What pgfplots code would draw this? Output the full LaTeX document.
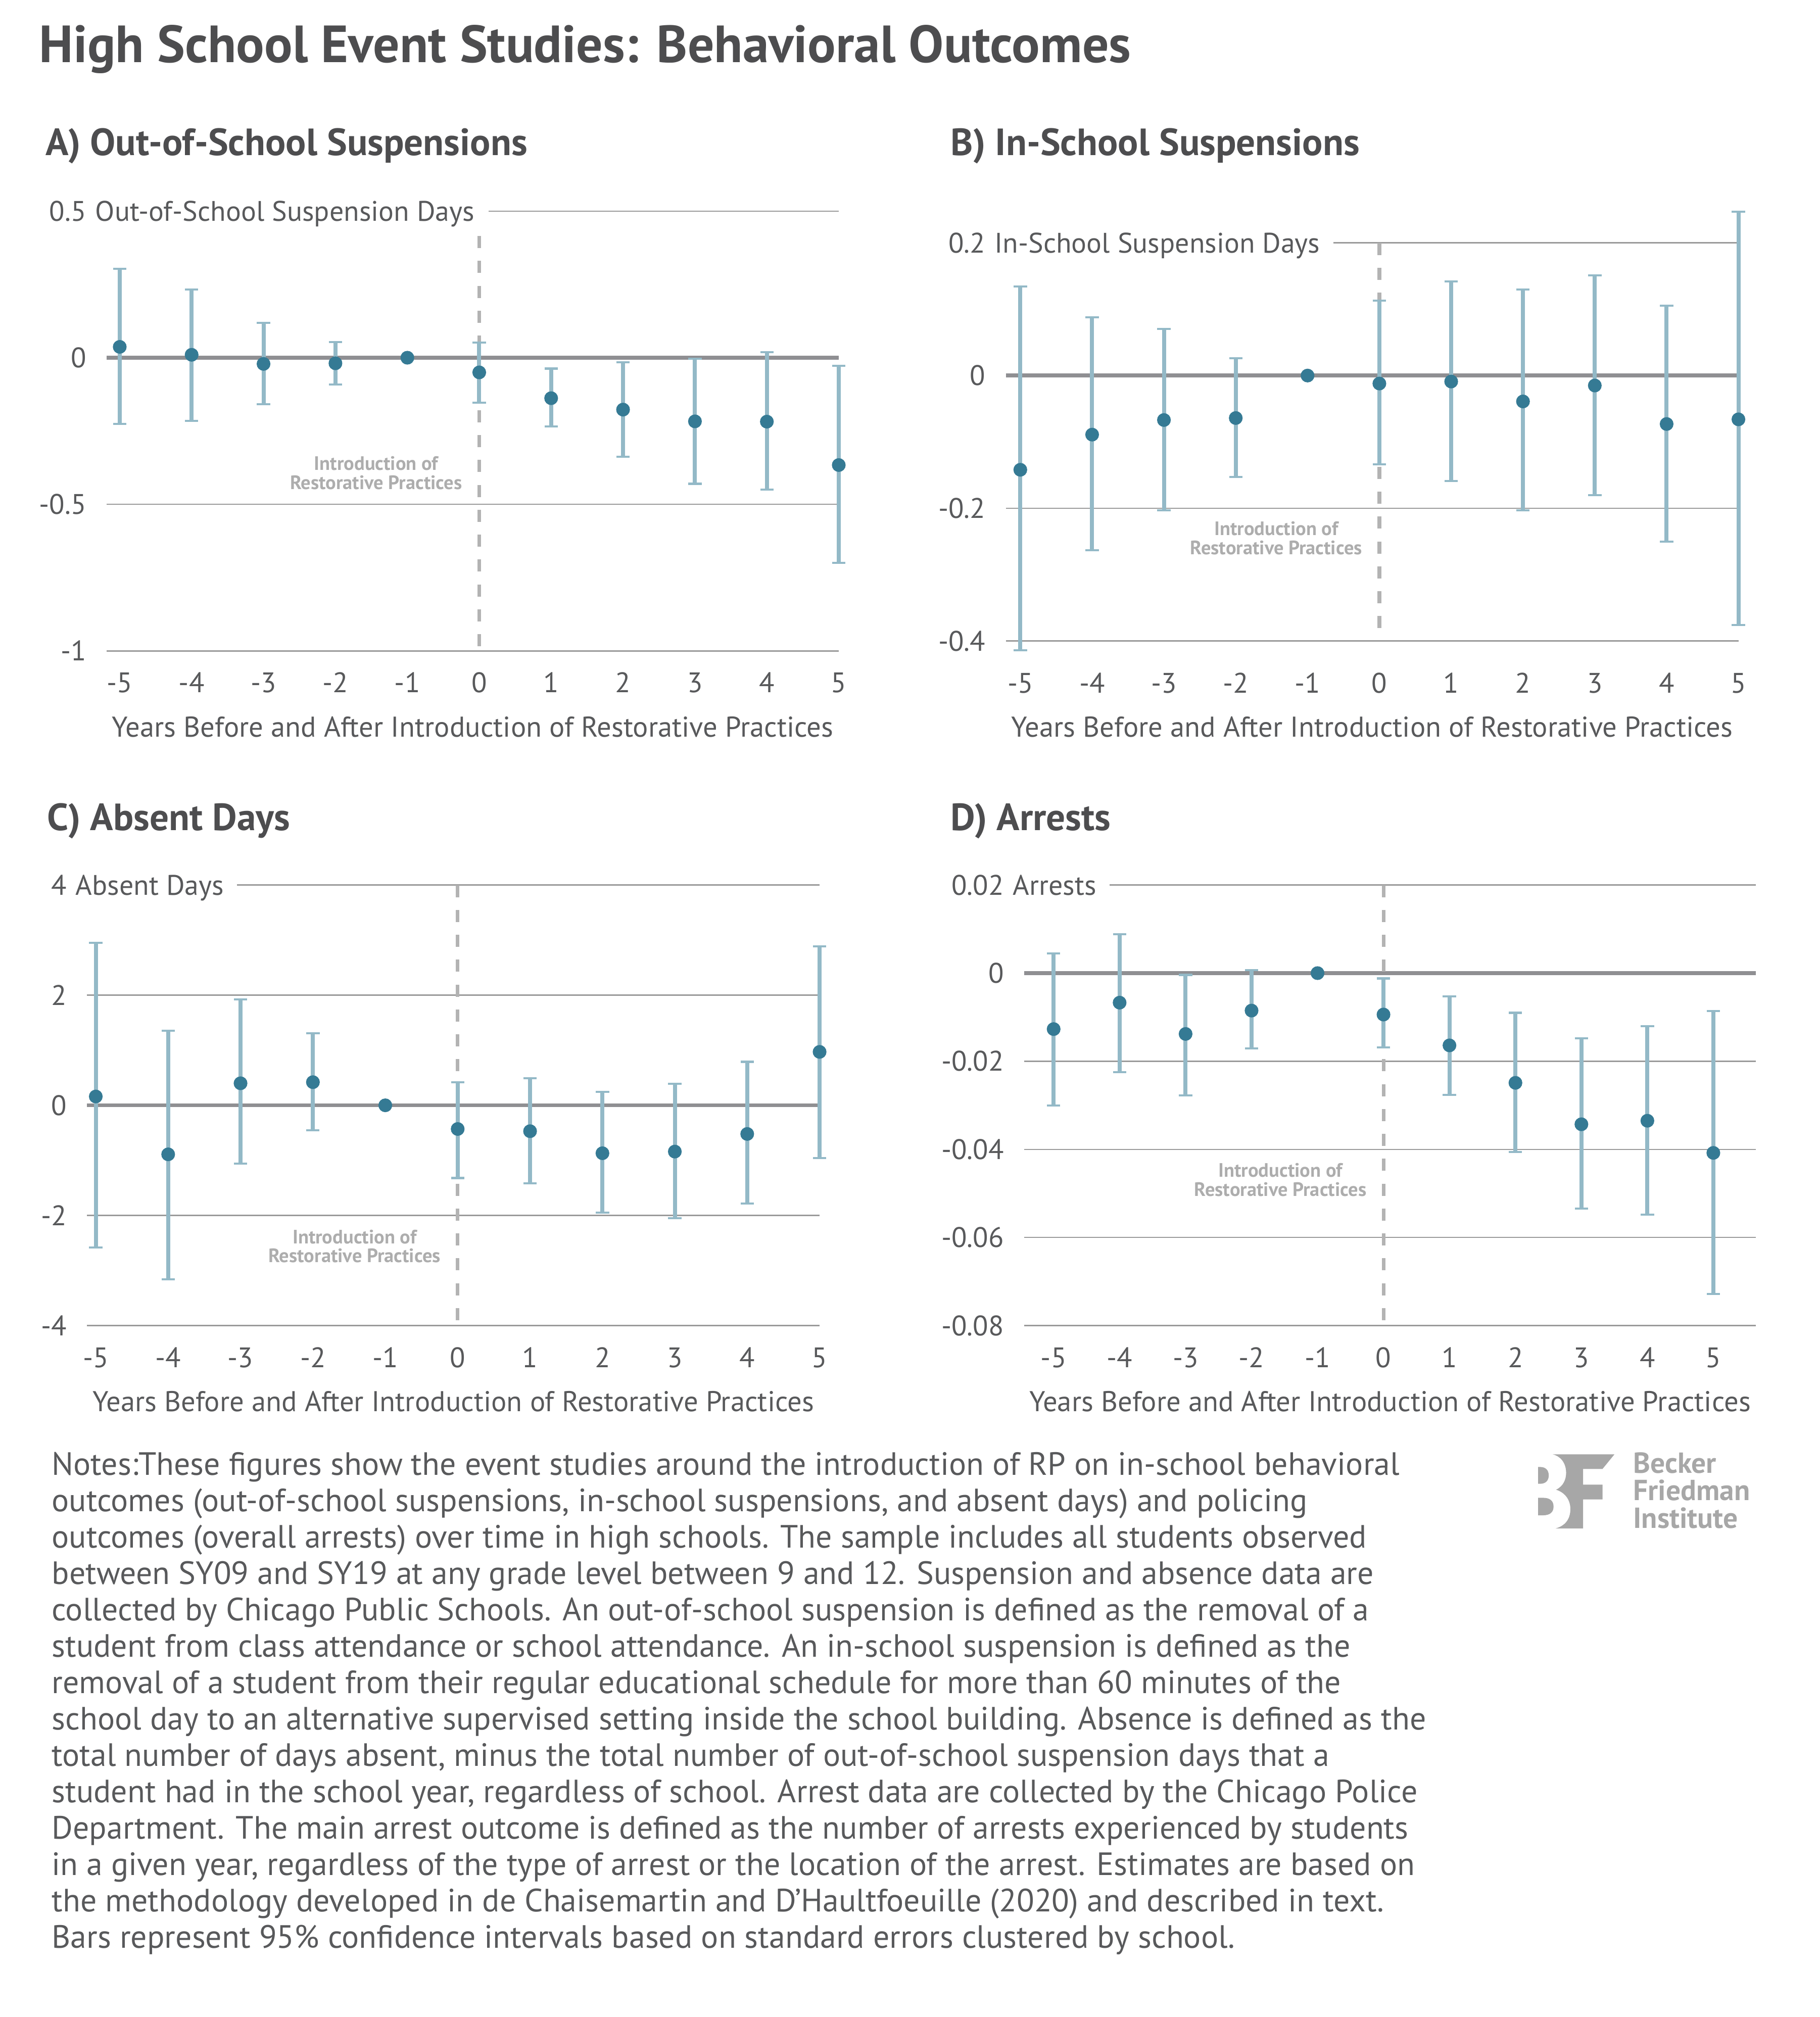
\documentclass[border=0pt]{standalone}
\usepackage{fontspec}
\setmainfont{PT Sans}
\usepackage{pgfplots}
\pgfplotsset{compat=1.18}
\usepackage{pgfplotstable}

\definecolor{titlecol}{HTML}{4D4D4F}
\definecolor{labcol}{HTML}{58595B}
\definecolor{gridcol}{HTML}{9A9A9A}
\definecolor{zerocol}{HTML}{8F8F92}
\definecolor{dashcol}{HTML}{B3B3B3}
\definecolor{errcol}{HTML}{93B9C7}
\definecolor{dotcol}{HTML}{357A94}
\definecolor{anncol}{HTML}{ADADAD}
\definecolor{logocol}{HTML}{A7A7A7}

\newcommand\tickfont{\fontsize{10.9}{12}\selectfont}
\newcommand\labfont{\fontsize{11.05}{12}\selectfont}
\newcommand\annfont{\fontsize{7.5}{7.3}\selectfont\bfseries}
\newcommand\ptitle{\fontsize{14.65}{16}\selectfont\bfseries}

\pgfplotstableread{
x y lo hi
-5 0.037 -0.226 0.304
-4 0.010 -0.215 0.233
-3 -0.021 -0.159 0.119
-2 -0.019 -0.091 0.053
-1 0 0 0
0 -0.050 -0.153 0.052
1 -0.138 -0.234 -0.037
2 -0.177 -0.338 -0.016
3 -0.217 -0.430 -0.004
4 -0.218 -0.450 0.019
5 -0.366 -0.700 -0.028
}\dataA
\pgfplotstableread{
x y lo hi
-5 -0.142 -0.414 0.134
-4 -0.089 -0.263 0.088
-3 -0.067 -0.203 0.070
-2 -0.064 -0.153 0.026
-1 0 0 0
0 -0.012 -0.134 0.113
1 -0.009 -0.159 0.142
2 -0.039 -0.203 0.130
3 -0.015 -0.180 0.151
4 -0.073 -0.250 0.105
5 -0.066 -0.376 0.247
}\dataB
\pgfplotstableread{
x y lo hi
-5 0.16 -2.58 2.95
-4 -0.89 -3.16 1.35
-3 0.40 -1.06 1.92
-2 0.42 -0.45 1.31
-1 0 0 0
0 -0.43 -1.32 0.42
1 -0.47 -1.42 0.49
2 -0.87 -1.95 0.24
3 -0.84 -2.05 0.39
4 -0.52 -1.78 0.79
5 0.97 -0.96 2.89
}\dataC
\pgfplotstableread{
x y lo hi
-5 -0.0127 -0.0300 0.0045
-4 -0.0067 -0.0225 0.0088
-3 -0.0138 -0.0277 -0.0004
-2 -0.0085 -0.0171 0.0007
-1 0 0 0
0 -0.0094 -0.0169 -0.0012
1 -0.0164 -0.0276 -0.0053
2 -0.0249 -0.0406 -0.0090
3 -0.0343 -0.0534 -0.0148
4 -0.0335 -0.0548 -0.0120
5 -0.0408 -0.0728 -0.0086
}\dataD

\tikzset{
  dashv/.style={dashcol, line width=1.4pt, dash pattern=on 4.7pt off 4.9pt},
  toplab/.style={anchor=base west, fill=white, inner xsep=0pt, inner ysep=3pt, font=\tickfont, text=labcol},
  ann/.style={anchor=east, align=center, inner sep=0pt, xshift=-6.4pt, font=\annfont, text=anncol},
}
\pgfplotsset{
  panel/.style={
    scale only axis, clip=false, anchor=north west,
    axis line style={draw=none},
    major tick length=0pt,
    ymajorgrids, grid style={gridcol, line width=0.45pt},
    xtick={-5,...,5},
    tick label style={font=\tickfont, text=labcol},
    /pgf/number format/assume math mode=true,
    scaled y ticks=false,
    yticklabel style={anchor=base east, inner sep=0pt, xshift=-7.7pt, yshift=-3.8pt},
    xticklabel style={anchor=base, inner sep=0pt, yshift=-16.1pt},
    extra y ticks={0},
    extra y tick style={ymajorgrids=true, grid style={zerocol, line width=1.5pt}},
    xlabel={Years Before and After Introduction of Restorative Practices},
    xlabel style={font=\labfont, text=labcol, at={(rel axis cs:0.5,0)}, anchor=base, inner sep=0pt, yshift=-33.2pt},
  },
  est/.style={only marks, mark=*, mark size=2.45pt, mark options={draw=dotcol, fill=dotcol},
    error bars/.cd, y dir=both, y explicit,
    error bar style={errcol, line width=1.56pt},
    error mark options={rotate=90, errcol, line width=0.8pt, mark size=2.57pt}},
}

\begin{document}
\begin{tikzpicture}
\path[use as bounding box] (0,0) rectangle (702pt,-778.2pt);

\node[anchor=base west, inner sep=0pt, text=titlecol] at (15pt,-24pt)
  {\fontsize{20.2}{22}\selectfont\bfseries High School Event Studies: Behavioral Outcomes};
\node[anchor=base west, inner sep=0pt, text=titlecol] at (17.5pt,-60pt) {\ptitle A) Out-of-School Suspensions};
\node[anchor=base west, inner sep=0pt, text=titlecol] at (366.6pt,-60pt) {\ptitle B) In-School Suspensions};
\node[anchor=base west, inner sep=0pt, text=titlecol] at (18pt,-320.3pt) {\ptitle C) Absent Days};
\node[anchor=base west, inner sep=0pt, text=titlecol] at (366.6pt,-320.3pt) {\ptitle D) Arrests};

% Panel A
\begin{axis}[panel, at={(41.2pt,-81.45pt)}, width=282.4pt, height=169.7pt,
  xmin=-5.18, xmax=5, ymin=-1, ymax=0.5, ytick={-1,-0.5,0.5}]
  \draw[dashv] (axis cs:0,0.5) -- (axis cs:0,-1);
  \addplot[est] table[x=x, y=y, y error plus expr=\thisrow{hi}-\thisrow{y}, y error minus expr=\thisrow{y}-\thisrow{lo}] {\dataA};
  \node[ann] at (axis cs:0,-0.393) {Introduction of\\Restorative Practices};
  \node[toplab] at ([xshift=-4.6pt, yshift=-3.8pt]rel axis cs:0,1) {Out-of-School Suspension Days\hspace*{5.5pt}};
\end{axis}

% Panel B
\begin{axis}[panel, at={(388.1pt,-93.7pt)}, width=282.6pt, height=153.6pt,
  xmin=-5.2, xmax=5, ymin=-0.4, ymax=0.2, ytick={-0.4,-0.2,0.2},
  xticklabel style={yshift=-3.9pt}, xlabel style={yshift=-3.9pt}]
  \draw[dashv] (axis cs:0,0.2) -- (axis cs:0,-0.4);
  \addplot[est] table[x=x, y=y, y error plus expr=\thisrow{hi}-\thisrow{y}, y error minus expr=\thisrow{y}-\thisrow{lo}] {\dataB};
  \node[ann] at (axis cs:0,-0.245) {Introduction of\\Restorative Practices};
  \node[toplab] at ([xshift=-4.6pt, yshift=-3.8pt]rel axis cs:0,1) {In-School Suspension Days\hspace*{5.1pt}};
\end{axis}

% Panel C
\begin{axis}[panel, at={(33.6pt,-341.45pt)}, width=282.6pt, height=170pt,
  xmin=-5.12, xmax=5, ymin=-4, ymax=4, ytick={-4,-2,2,4}]
  \draw[dashv] (axis cs:0,4) -- (axis cs:0,-4);
  \addplot[est] table[x=x, y=y, y error plus expr=\thisrow{hi}-\thisrow{y}, y error minus expr=\thisrow{y}-\thisrow{lo}] {\dataC};
  \node[ann] at (axis cs:0,-2.56) {Introduction of\\Restorative Practices};
  \node[toplab] at ([xshift=-4.6pt, yshift=-3.8pt]rel axis cs:0,1) {Absent Days\hspace*{5pt}};
\end{axis}

% Panel D
\begin{axis}[panel, at={(395.2pt,-341.45pt)}, width=282.2pt, height=170pt,
  xmin=-5.444, xmax=5.644, ymin=-0.08, ymax=0.02, ytick={-0.08,-0.06,-0.04,-0.02,0.02},
  yticklabel style={/pgf/number format/fixed, /pgf/number format/precision=2}]
  \draw[dashv] (axis cs:0,0.02) -- (axis cs:0,-0.08);
  \addplot[est] table[x=x, y=y, y error plus expr=\thisrow{hi}-\thisrow{y}, y error minus expr=\thisrow{y}-\thisrow{lo}] {\dataD};
  \node[ann] at (axis cs:0,-0.0469) {Introduction of\\Restorative Practices};
  \node[toplab] at ([xshift=-4.6pt, yshift=-3.8pt]rel axis cs:0,1) {Arrests\hspace*{5pt}};
\end{axis}

% Notes
\node[anchor=base west, inner sep=0pt, text=labcol] at (19.8pt,-569.1pt) {\parbox[t]{600pt}{\fontsize{12.45}{14.03}\selectfont\raggedright
Notes:These figures show the event studies around the introduction of RP on in-school behavioral\\
outcomes (out-of-school suspensions, in-school suspensions, and absent days) and policing\\
outcomes (overall arrests) over time in high schools. The sample includes all students observed\\
between SY09 and SY19 at any grade level between 9 and 12. Suspension and absence data are\\
collected by Chicago Public Schools. An out-of-school suspension is defined as the removal of a\\
student from class attendance or school attendance. An in-school suspension is defined as the\\
removal of a student from their regular educational schedule for more than 60 minutes of the\\
school day to an alternative supervised setting inside the school building. Absence is defined as the\\
total number of days absent, minus the total number of out-of-school suspension days that a\\
student had in the school year, regardless of school. Arrest data are collected by the Chicago Police\\
Department. The main arrest outcome is defined as the number of arrests experienced by students\\
in a given year, regardless of the type of arrest or the location of the arrest. Estimates are based on\\
the methodology developed in de Chaisemartin and D’Haultfoeuille (2020) and described in text.\\
Bars represent 95\% confidence intervals based on standard errors clustered by school.}};

% Logo
\begin{scope}[shift={(593.4pt,-561.1pt)}, x=0.0746pt, y=-0.065pt]
  \fill[logocol] (0,75) -- (10,75) .. controls (40,75) and (55,95) .. (55,125) .. controls (55,155) and (40,175) .. (10,175) -- (0,175) -- cycle;
  \fill[logocol] (0,258) -- (25,258) .. controls (60,258) and (80,275) .. (80,310) .. controls (80,345) and (60,362) .. (25,362) -- (0,362) -- cycle;
  \fill[logocol] (75,0) -- (395,0) -- (333,87) -- (233,87) -- (233,180) -- (333,180) -- (333,268) -- (233,268) -- (233,440) -- (90,440)
     .. controls (140,425) and (167,385) .. (167,325) .. controls (167,265) and (135,225) .. (93,210)
     .. controls (130,190) and (145,150) .. (145,110) .. controls (145,50) and (115,10) .. (75,0) -- cycle;
\end{scope}
\node[anchor=base west, inner sep=0pt, text=logocol] at (629.9pt,-568.3pt)
  {\parbox[t]{80pt}{\fontsize{11.2}{10.6}\selectfont\bfseries Becker\\Friedman\\Institute}};
\end{tikzpicture}
\end{document}
